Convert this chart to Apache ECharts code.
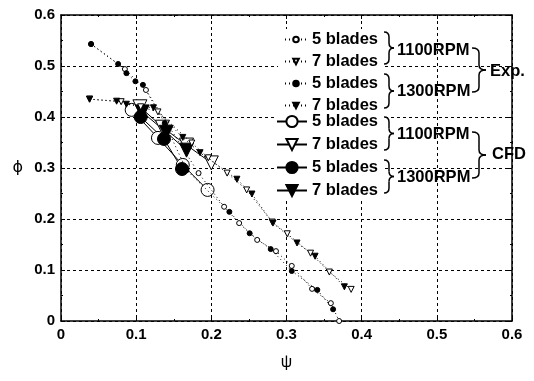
<!DOCTYPE html>
<html>
<head>
<meta charset="utf-8">
<script src="https://cdn.jsdelivr.net/npm/echarts@6/dist/echarts.min.js"></script>
<style>
  html, body { margin: 0; padding: 0; background: #fff; }
  #chart { width: 534px; height: 381px; }
</style>
</head>
<body>
<div id="chart"></div>
<script>
// Experimental data (psi, phi)
const exp5_1100_psi = [0.04, 0.085, 0.113, 0.183, 0.217, 0.237, 0.261, 0.286, 0.307, 0.334, 0.359, 0.37];
const exp5_1100_phi = [0.543, 0.494, 0.453, 0.29, 0.224, 0.192, 0.159, 0.137, 0.108, 0.063, 0.035, 0.0];
const exp7_1100_psi = [0.038, 0.08, 0.106, 0.129, 0.174, 0.196, 0.221, 0.247, 0.281, 0.301, 0.332, 0.357, 0.386];
const exp7_1100_phi = [0.435, 0.43, 0.42, 0.41, 0.349, 0.32, 0.29, 0.257, 0.194, 0.171, 0.133, 0.096, 0.062];
const exp5_1300_psi = [0.04, 0.076, 0.087, 0.099, 0.109, 0.138, 0.167, 0.224, 0.251, 0.279, 0.307, 0.341, 0.362];
const exp5_1300_phi = [0.543, 0.504, 0.486, 0.47, 0.463, 0.388, 0.296, 0.214, 0.172, 0.141, 0.098, 0.061, 0.023];
const exp7_1300_psi = [0.038, 0.074, 0.087, 0.123, 0.162, 0.185, 0.234, 0.254, 0.282, 0.314, 0.338, 0.377];
const exp7_1300_phi = [0.435, 0.431, 0.425, 0.418, 0.36, 0.33, 0.278, 0.249, 0.192, 0.153, 0.127, 0.067];

// CFD data (psi, phi)
const cfd5_1100_psi = [0.094, 0.129, 0.162, 0.195];
const cfd5_1100_phi = [0.414, 0.359, 0.306, 0.257];
const cfd7_1100_psi = [0.105, 0.135, 0.167, 0.2];
const cfd7_1100_phi = [0.42, 0.38, 0.345, 0.31];
const cfd5_1300_psi = [0.106, 0.137, 0.161];
const cfd5_1300_phi = [0.4, 0.357, 0.298];
const cfd7_1300_psi = [0.108, 0.14, 0.167];
const cfd7_1300_phi = [0.41, 0.37, 0.335];

const legendLabels = ['5 blades', '7 blades', '5 blades', '7 blades', '5 blades', '7 blades', '5 blades', '7 blades'];

const FONT = '"Liberation Sans", Arial, sans-serif';
const pairs = (xs, ys) => xs.map((x, i) => [x, ys[i]]);

function mk(id, xs, ys, symbol, size, filled, exp) {
  return {
    id, name: id, type: 'line', data: pairs(xs, ys),
    symbol, symbolSize: size, symbolRotate: symbol === 'triangle' ? 180 : 0,
    showAllSymbol: true,
    itemStyle: { color: filled ? '#000' : '#fff', borderColor: '#000', borderWidth: 1 },
    lineStyle: { color: '#000', width: 1, type: exp ? [1, 3] : 'solid' },
    z: exp ? 3 : 2, animation: false
  };
}

const series = [
  mk('e5a', exp5_1100_psi, exp5_1100_phi, 'circle', 5, false, true),
  mk('e7a', exp7_1100_psi, exp7_1100_phi, 'triangle', 6, false, true),
  mk('e5b', exp5_1300_psi, exp5_1300_phi, 'circle', 5, true, true),
  mk('e7b', exp7_1300_psi, exp7_1300_phi, 'triangle', 6, true, true),
  mk('c5a', cfd5_1100_psi, cfd5_1100_phi, 'circle', 13, false, false),
  mk('c7a', cfd7_1100_psi, cfd7_1100_phi, 'triangle', 14, false, false),
  mk('c5b', cfd5_1300_psi, cfd5_1300_phi, 'circle', 13, true, false),
  mk('c7b', cfd7_1300_psi, cfd7_1300_phi, 'triangle', 14, true, false)
];
const ids = series.map(s => s.id);

// right-facing curly brace from line + quadratic curves
const bStyle = { stroke: '#000', lineWidth: 1.5, fill: null };
function brace(x, y1, y2, w) {
  const ym = (y1 + y2) / 2, h = w / 2, r = Math.min(5, (y2 - y1) / 4);
  const q = (a, b, c, d, cx, cy) => ({ type: 'bezierCurve', shape: { x1: a, y1: b, x2: c, y2: d, cpx1: cx, cpy1: cy }, style: bStyle });
  const l = (a, b, c, d) => ({ type: 'line', shape: { x1: a, y1: b, x2: c, y2: d }, style: bStyle });
  return {
    type: 'group', z: 10, children: [
      q(x, y1, x + h, y1 + r, x + h, y1),
      l(x + h, y1 + r, x + h, ym - r),
      q(x + h, ym - r, x + w, ym, x + h, ym),
      q(x + w, ym, x + h, ym + r, x + h, ym),
      l(x + h, ym + r, x + h, y2 - r),
      q(x + h, y2 - r, x, y2, x + h, y2)
    ]
  };
}
const txt = (x, y, text) => ({ type: 'text', x, y, z: 10, style: { text, font: 'bold 16.5px ' + FONT, fill: '#000', textVerticalAlign: 'middle' } });

const legendText = { fontFamily: FONT, fontSize: 16.5, fontWeight: 'bold', color: '#000', lineHeight: 15 };
const legendBase = {
  orient: 'vertical', backgroundColor: '#fff', selectedMode: false,
  formatter: name => legendLabels[ids.indexOf(name)], textStyle: legendText
};

const chart = echarts.init(document.getElementById('chart'));
const axisCommon = {
  type: 'value', min: 0, max: 0.6, interval: 0.1,
  axisLine: { show: true, onZero: false, lineStyle: { color: '#000', width: 1.5 } },
  axisTick: { show: true, inside: true, length: 4, lineStyle: { color: '#000' } },
  minorTick: { show: true, splitNumber: 2, length: 2, lineStyle: { color: '#000' } }
};
chart.setOption({
  backgroundColor: '#fff',
  animation: false,
  grid: { left: 61, right: 22, top: 15, bottom: 60 },
  xAxis: [
    Object.assign({}, axisCommon, {
      position: 'bottom', name: 'ψ', nameLocation: 'middle', nameGap: 34,
      nameTextStyle: { fontFamily: FONT, fontSize: 16, color: '#000' },
      axisLabel: { color: '#000', fontFamily: FONT, fontSize: 15, fontWeight: 'bold', margin: 6,
        formatter: v => String(+v.toFixed(1)) },
      splitLine: { show: true, lineStyle: { color: '#000', type: [3, 3], width: 1 } }
    }),
    Object.assign({}, axisCommon, { position: 'top', axisLabel: { show: false }, splitLine: { show: false } })
  ],
  yAxis: [
    Object.assign({}, axisCommon, {
      position: 'left', name: 'ϕ', nameLocation: 'middle', nameGap: 38, nameRotate: 0,
      nameTextStyle: { fontFamily: '"DejaVu Sans", sans-serif', fontSize: 16, color: '#000' },
      axisLabel: { color: '#000', fontFamily: FONT, fontSize: 15, fontWeight: 'bold', margin: 6,
        formatter: v => String(+v.toFixed(1)) },
      splitLine: { show: true, lineStyle: { color: '#000', type: [3, 3], width: 1 } }
    }),
    Object.assign({}, axisCommon, { position: 'right', axisLabel: { show: false }, splitLine: { show: false } })
  ],
  legend: [
    Object.assign({}, legendBase, {
      left: 278, top: 29, data: ids.slice(0, 4), itemGap: 5,
      itemWidth: 22, itemHeight: 7, padding: [2, 6, 4, 6]
    }),
    Object.assign({}, legendBase, {
      left: 274, top: 111, data: ids.slice(4), itemGap: 6,
      itemWidth: 30, itemHeight: 14, padding: [2, 6, 2, 2]
    })
  ],
  graphic: [
    brace(384, 32, 64, 10), txt(397, 50, '1100RPM'),
    brace(384, 74, 108, 10), txt(397, 91, '1300RPM'),
    brace(472, 48, 92, 14), txt(490, 71, 'Exp.'),
    brace(384, 117, 150, 10), txt(397, 134, '1100RPM'),
    brace(384, 160, 193, 10), txt(397, 177, '1300RPM'),
    brace(472, 132, 178, 14), txt(492, 154, 'CFD')
  ],
  series: series.map(s => Object.assign(s, { xAxisIndex: 0, yAxisIndex: 0 }))
});
</script>
</body>
</html>
